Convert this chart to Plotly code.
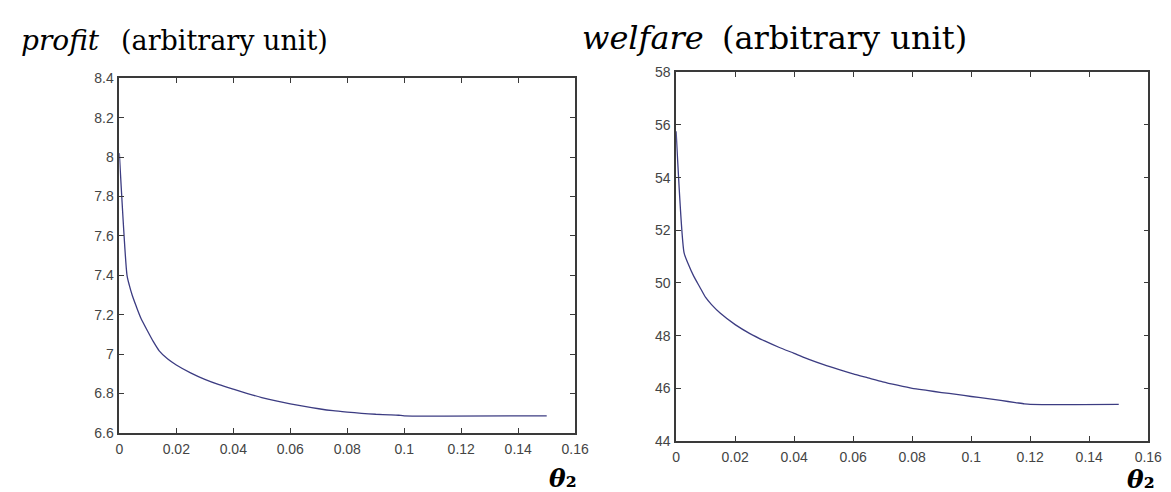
import plotly.graph_objects as go

# ---- data ----
theta_profit = [0.0, 0.0027, 0.0035, 0.0045, 0.006, 0.0075, 0.01, 0.012, 0.014, 0.017,
                0.02, 0.025, 0.03, 0.035, 0.04, 0.045, 0.05, 0.055, 0.06, 0.065,
                0.07, 0.075, 0.08, 0.085, 0.09, 0.095, 0.098, 0.1, 0.15]
profit = [8.02, 7.40, 7.35, 7.30, 7.24, 7.185, 7.115, 7.062, 7.017, 6.975,
          6.945, 6.905, 6.872, 6.845, 6.822, 6.80, 6.78, 6.763, 6.748, 6.735,
          6.723, 6.713, 6.706, 6.70, 6.695, 6.692, 6.69, 6.687, 6.687]

theta_welfare = [0.0, 0.0027, 0.004, 0.006, 0.008, 0.01, 0.012, 0.015, 0.02, 0.025,
                 0.03, 0.035, 0.04, 0.045, 0.05, 0.055, 0.06, 0.065, 0.07, 0.075,
                 0.08, 0.085, 0.09, 0.095, 0.1, 0.105, 0.11, 0.115, 0.118, 0.12, 0.15]
welfare = [55.76, 51.14, 50.75, 50.25, 49.85, 49.45, 49.18, 48.85, 48.42, 48.08,
           47.80, 47.55, 47.33, 47.10, 46.90, 46.72, 46.55, 46.40, 46.25, 46.12,
           46.00, 45.92, 45.84, 45.77, 45.69, 45.62, 45.54, 45.46, 45.41, 45.39, 45.39]

x_ticks = [0, 0.02, 0.04, 0.06, 0.08, 0.1, 0.12, 0.14, 0.16]
x_ticklabels = ["0", "0.02", "0.04", "0.06", "0.08", "0.1", "0.12", "0.14", "0.16"]
profit_ticks = [6.6, 6.8, 7.0, 7.2, 7.4, 7.6, 7.8, 8.0, 8.2, 8.4]
profit_ticklabels = ["6.6", "6.8", "7", "7.2", "7.4", "7.6", "7.8", "8", "8.2", "8.4"]
welfare_ticks = [44, 46, 48, 50, 52, 54, 56, 58]
welfare_ticklabels = ["44", "46", "48", "50", "52", "54", "56", "58"]

W, H = 1171, 492
LINE = "#3c3c82"
AX = "#3a3a3a"

def px(x):
    return x / W

def py(y):
    return 1 - y / H

fig = go.Figure()
fig.add_trace(go.Scatter(x=theta_profit, y=profit, mode="lines",
                         line=dict(color=LINE, width=1.3, shape="spline", smoothing=0.6),
                         xaxis="x", yaxis="y", showlegend=False, hoverinfo="skip"))
fig.add_trace(go.Scatter(x=theta_welfare, y=welfare, mode="lines",
                         line=dict(color=LINE, width=1.3, shape="spline", smoothing=0.6),
                         xaxis="x2", yaxis="y2", showlegend=False, hoverinfo="skip"))

axis_common = dict(showline=True, linecolor=AX, linewidth=1.5, mirror="ticks",
                   ticks="inside", ticklen=5, tickwidth=1, tickcolor=AX,
                   showgrid=False, zeroline=False,
                   tickfont=dict(family="Liberation Sans, Arial, sans-serif",
                                 size=14, color="#444444"))

fig.update_layout(
    width=W, height=H,
    margin=dict(l=0, r=0, t=0, b=0),
    paper_bgcolor="white", plot_bgcolor="white",
    xaxis=dict(domain=[px(109), px(572)], range=[0, 0.16], tickvals=x_ticks,
               ticktext=x_ticklabels, anchor="y", ticklabelstandoff=2, **axis_common),
    yaxis=dict(domain=[py(431), py(64.3)], range=[6.6, 8.4], tickvals=profit_ticks,
               ticktext=profit_ticklabels, anchor="x", ticklabelstandoff=1, **axis_common),
    xaxis2=dict(domain=[px(674.5), px(1154)], range=[0, 0.16], tickvals=x_ticks,
                ticktext=x_ticklabels, anchor="y2", ticklabelstandoff=2, **axis_common),
    yaxis2=dict(domain=[py(439.3), py(58.2)], range=[44, 58], tickvals=welfare_ticks,
                ticktext=welfare_ticklabels, anchor="x2", ticklabelstandoff=1, **axis_common),
)

serif = "DejaVu Serif, Liberation Serif, serif"

def label(text, x, y, size, xanchor="left", yanchor="middle"):
    fig.add_annotation(xref="paper", yref="paper", x=px(x), y=py(y), xanchor=xanchor,
                       yanchor=yanchor, showarrow=False, text=text, borderpad=0,
                       font=dict(family=serif, size=size, color="black"))

# titles (italic symbol + roman unit text)
label("<i>profit</i>", 8, 25, 28)
label("(arbitrary unit)", 110, 25, 27)
label("<i>welfare</i>", 578, 23, 32)
label("(arbitrary unit)", 720, 23, 32)

# x-axis symbols
label("<b><i>θ</i>₂</b>", 560, 478, 25, xanchor="center")
label("<b><i>θ</i>₂</b>", 1147, 479, 25, xanchor="center")

fig.write_html("out.html")
